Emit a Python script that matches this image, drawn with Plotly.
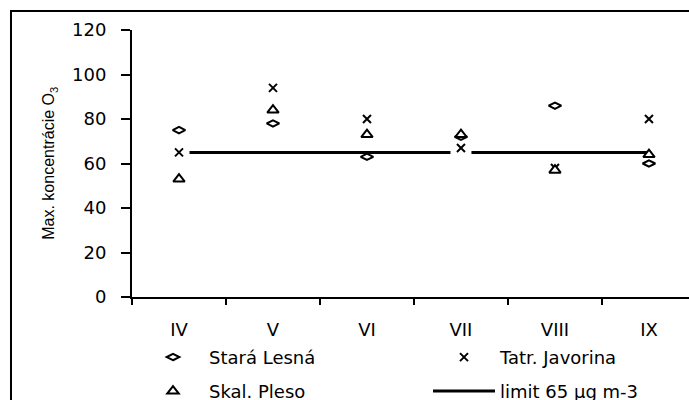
import plotly.graph_objects as go

months = ["IV", "V", "VI", "VII", "VIII", "IX"]
stara_lesna = [75, 78, 63, 72, 86, 60]
tatr_javorina = [65, 94, 80, 67, 58, 80]
skal_pleso = [53, 84, 73, 73, 57, 64]
limit = [65, 65, 65, 65, 65, 65]
y_ticks = [0, 20, 40, 60, 80, 100, 120]

FONT = "DejaVu Sans"
FS = 18
W, H = 689, 400
L, T, B = 132, 30, 102.5
PW, PH = W - L, H - T - B


def px_x(x):
    return (x - L) / PW


def px_y(y):
    return (H - B - y) / PH


fig = go.Figure()
fig.add_trace(go.Scatter(x=months, y=limit, mode="lines", name="limit 65 µg m-3",
                         line=dict(color="black", width=3), legend="legend4"))
fig.add_trace(go.Scatter(x=months, y=tatr_javorina, mode="markers", showlegend=False,
                         hoverinfo="skip",
                         marker=dict(symbol="square", size=21, color="white",
                                     line=dict(width=0))))
fig.add_trace(go.Scatter(x=months, y=stara_lesna, mode="markers", name="Stará Lesná",
                         marker=dict(symbol="diamond-wide", size=9, color="white",
                                     line=dict(color="black", width=2)), legend="legend"))
fig.add_trace(go.Scatter(x=months, y=tatr_javorina, mode="markers", name="Tatr. Javorina",
                         marker=dict(symbol="x-thin-open", size=8, color="black",
                                     line=dict(color="black", width=2)), legend="legend2"))
fig.add_trace(go.Scatter(x=months, y=skal_pleso, mode="markers", name="Skal. Pleso",
                         marker=dict(symbol="triangle-up", size=10, color="white",
                                     line=dict(color="black", width=2)), legend="legend3"))


def leg(xpix, ypix):
    return dict(orientation="h", x=px_x(xpix), xanchor="left",
                y=px_y(ypix), yanchor="middle", itemwidth=62,
                bgcolor="rgba(0,0,0,0)", font=dict(family=FONT, size=FS))


fig.update_layout(
    width=W, height=H,
    margin=dict(l=L, r=0, t=T, b=B, autoexpand=False),
    paper_bgcolor="white", plot_bgcolor="white",
    font=dict(family=FONT, size=FS, color="black"),
    xaxis=dict(range=[-0.5, 5.426], showgrid=False, zeroline=False,
               showline=True, linecolor="black", linewidth=2,
               ticks="outside", tickson="boundaries", ticklen=6, tickwidth=2,
               tickcolor="black", ticklabelstandoff=15, automargin=False,
               tickfont=dict(family=FONT, size=FS)),
    yaxis=dict(range=[0, 120], tickvals=y_ticks, showgrid=False, zeroline=False,
               showline=True, linecolor="black", linewidth=2,
               ticks="outside", ticklen=9, tickwidth=2, tickcolor="black",
               ticklabelstandoff=11, automargin=False,
               tickfont=dict(family=FONT, size=FS)),
    legend=leg(137, 358),
    legend2=leg(428, 358),
    legend3=leg(137, 392),
    legend4=leg(428, 392),
    showlegend=True,
)

fig.add_annotation(text="Max. koncentrácie O<sub>3</sub>", xref="paper", yref="paper",
                   x=px_x(50), y=px_y(164), xanchor="center", yanchor="middle",
                   textangle=-90, showarrow=False,
                   font=dict(family="Liberation Sans", size=16, color="black"))

fig.add_shape(type="rect", xref="paper", yref="paper",
              x0=px_x(11), x1=1.05, y0=-0.6, y1=px_y(11),
              line=dict(color="black", width=2), fillcolor="rgba(0,0,0,0)", layer="below")

fig.write_html("out.html", config={"displayModeBar": False},
               post_script="document.body.style.margin='0px';")
